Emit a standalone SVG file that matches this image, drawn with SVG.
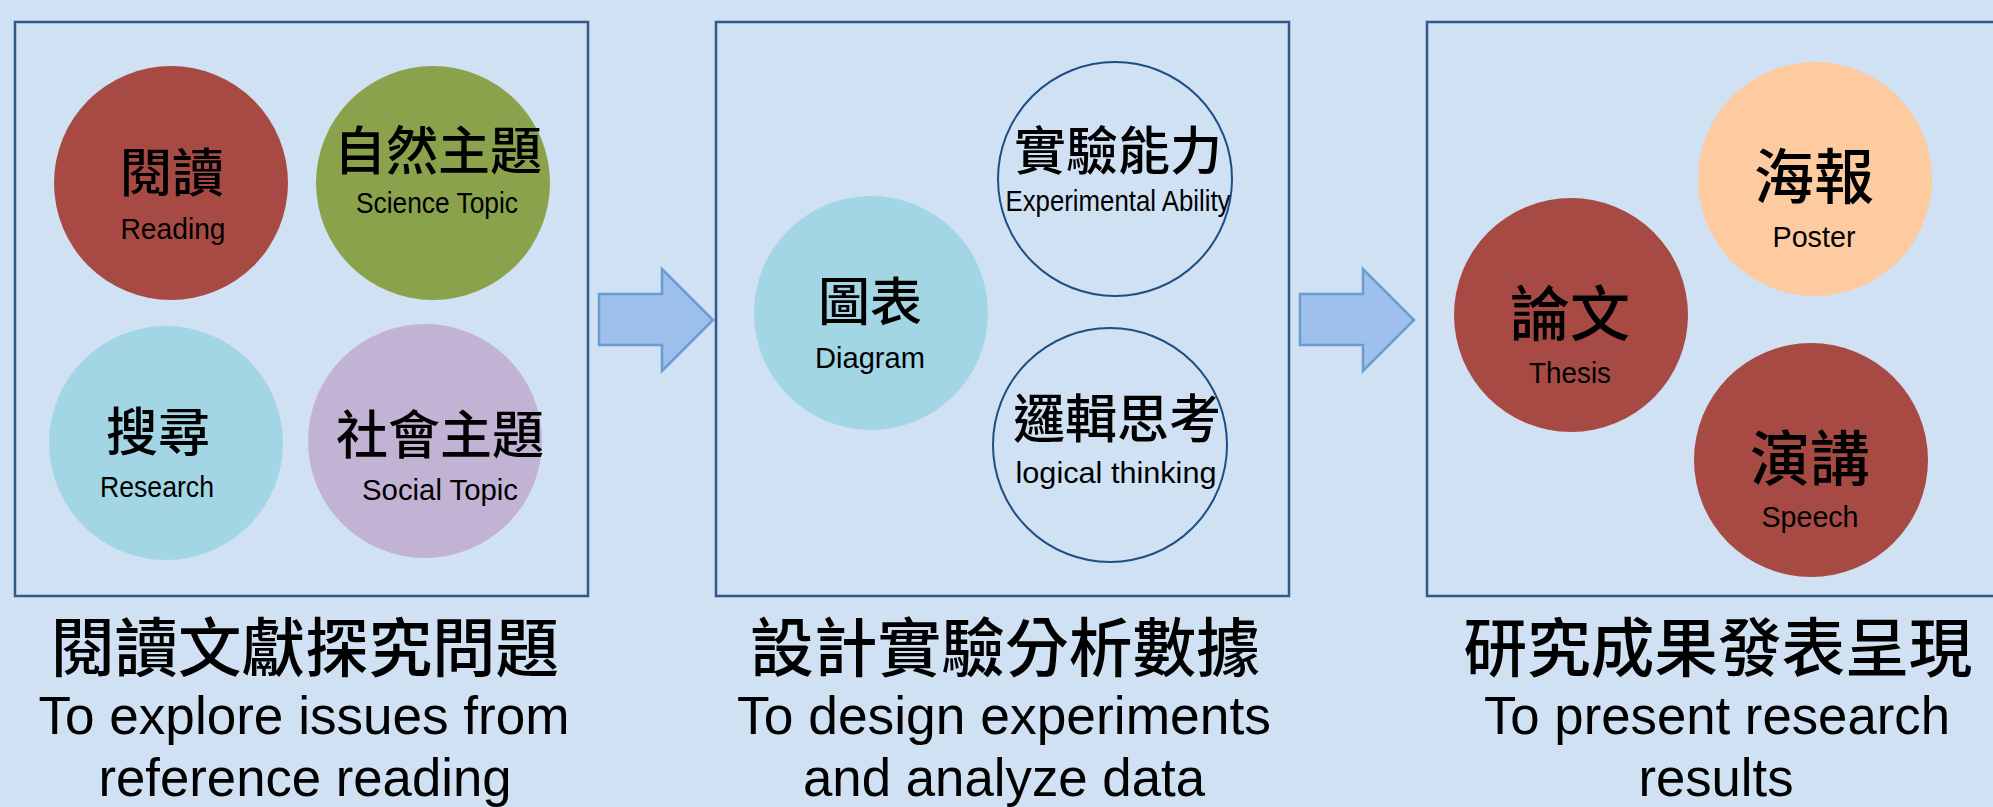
<svg xmlns="http://www.w3.org/2000/svg" width="1993" height="807" viewBox="0 0 1993 807">
<style>
.bg{fill:#cfe1f3}
.box{fill:#cfe1f3;stroke:#33598a;stroke-width:2.5}
.arrow{fill:#9dc1ea;stroke:#6a9bd3;stroke-width:2.5;stroke-linejoin:miter}
.zh{font-family:"Noto Sans CJK TC","Noto Sans CJK SC",sans-serif;font-weight:500;fill:#000;text-anchor:middle}
.en{font-family:"Liberation Sans",Arial,sans-serif;fill:#000;text-anchor:middle}
.cz{font-size:52px}
.cz2{font-size:60px}
.ce{font-size:30px}
.tz{font-size:64px;font-weight:500}
.te{font-size:53px}
.outline{fill:none;stroke:#1f4e82;stroke-width:2}
</style>
<rect class="bg" x="0" y="0" width="1993" height="807"/>
<g id="box1">
<rect class="box" x="15" y="22" width="573" height="574"/>
</g>
<g id="box2">
<rect class="box" x="716" y="22" width="573" height="574"/>
</g>
<g id="box3">
<rect class="box" x="1427" y="22" width="573" height="574"/>
</g>
<g id="connectors">
<polygon class="arrow" points="599,294 662,294 662,269 713,320 662,371 662,345 599,345"/>
<polygon class="arrow" points="1300,294 1363,294 1363,269 1414,320 1363,371 1363,345 1300,345"/>
</g>
<g id="reading">
<circle cx="171" cy="183" r="117" fill="#a84a44"/>
<text class="zh cz" x="172" y="192">閱讀</text>
<text class="en ce" x="173" y="239" textLength="105" lengthAdjust="spacingAndGlyphs">Reading</text>
</g>
<g id="science">
<circle cx="433" cy="183" r="117" fill="#8aa24b"/>
<text class="zh cz" x="438" y="170">自然主題</text>
<text class="en ce" x="437" y="213" textLength="162" lengthAdjust="spacingAndGlyphs">Science Topic</text>
</g>
<g id="research">
<circle cx="166" cy="443" r="117" fill="#a3d6e4"/>
<text class="zh cz" x="158" y="451">搜尋</text>
<text class="en ce" x="157" y="497" textLength="114" lengthAdjust="spacingAndGlyphs">Research</text>
</g>
<g id="social">
<circle cx="425" cy="441" r="117" fill="#c2b2d3"/>
<text class="zh cz" x="440" y="454">社會主題</text>
<text class="en ce" x="440" y="500" textLength="156" lengthAdjust="spacingAndGlyphs">Social Topic</text>
</g>
<g id="diagram">
<circle cx="871" cy="313" r="117" fill="#a3d6e4"/>
<text class="zh cz" x="870" y="321">圖表</text>
<text class="en ce" x="870" y="368" textLength="110" lengthAdjust="spacingAndGlyphs">Diagram</text>
</g>
<g id="experimental">
<circle class="outline" cx="1115" cy="179" r="117"/>
<text class="zh cz" x="1118" y="170">實驗能力</text>
<text class="en ce" x="1118" y="211" textLength="225" lengthAdjust="spacingAndGlyphs">Experimental Ability</text>
</g>
<g id="logical">
<circle class="outline" cx="1110" cy="445" r="117"/>
<text class="zh cz" x="1117" y="438">邏輯思考</text>
<text class="en ce" x="1116" y="483" textLength="201" lengthAdjust="spacingAndGlyphs">logical thinking</text>
</g>
<g id="poster">
<circle cx="1815" cy="179" r="117" fill="#fdcb9f"/>
<text class="zh cz2" x="1814" y="199">海報</text>
<text class="en ce" x="1814" y="247" textLength="83" lengthAdjust="spacingAndGlyphs">Poster</text>
</g>
<g id="thesis">
<circle cx="1571" cy="315" r="117" fill="#a84a44"/>
<text class="zh cz2" x="1570" y="336">論文</text>
<text class="en ce" x="1570" y="383" textLength="82" lengthAdjust="spacingAndGlyphs">Thesis</text>
</g>
<g id="speech">
<circle cx="1811" cy="460" r="117" fill="#a84a44"/>
<text class="zh cz2" x="1810" y="481">演講</text>
<text class="en ce" x="1810" y="527" textLength="97" lengthAdjust="spacingAndGlyphs">Speech</text>
</g>
<g id="title1">
<text class="zh tz" x="305" y="671" textLength="508" lengthAdjust="spacingAndGlyphs">閱讀文獻探究問題</text>
<text class="en te" x="304" y="734" textLength="531" lengthAdjust="spacingAndGlyphs">To explore issues from</text>
<text class="en te" x="305" y="796" textLength="413" lengthAdjust="spacingAndGlyphs">reference reading</text>
</g>
<g id="title2">
<text class="zh tz" x="1005" y="671" textLength="510" lengthAdjust="spacingAndGlyphs">設計實驗分析數據</text>
<text class="en te" x="1004" y="734" textLength="534" lengthAdjust="spacingAndGlyphs">To design experiments</text>
<text class="en te" x="1004" y="796" textLength="402" lengthAdjust="spacingAndGlyphs">and analyze data</text>
</g>
<g id="title3">
<text class="zh tz" x="1718" y="671" textLength="509" lengthAdjust="spacingAndGlyphs">研究成果發表呈現</text>
<text class="en te" x="1717" y="734" textLength="466" lengthAdjust="spacingAndGlyphs">To present research</text>
<text class="en te" x="1716" y="796" textLength="155" lengthAdjust="spacingAndGlyphs">results</text>
</g>
</svg>
